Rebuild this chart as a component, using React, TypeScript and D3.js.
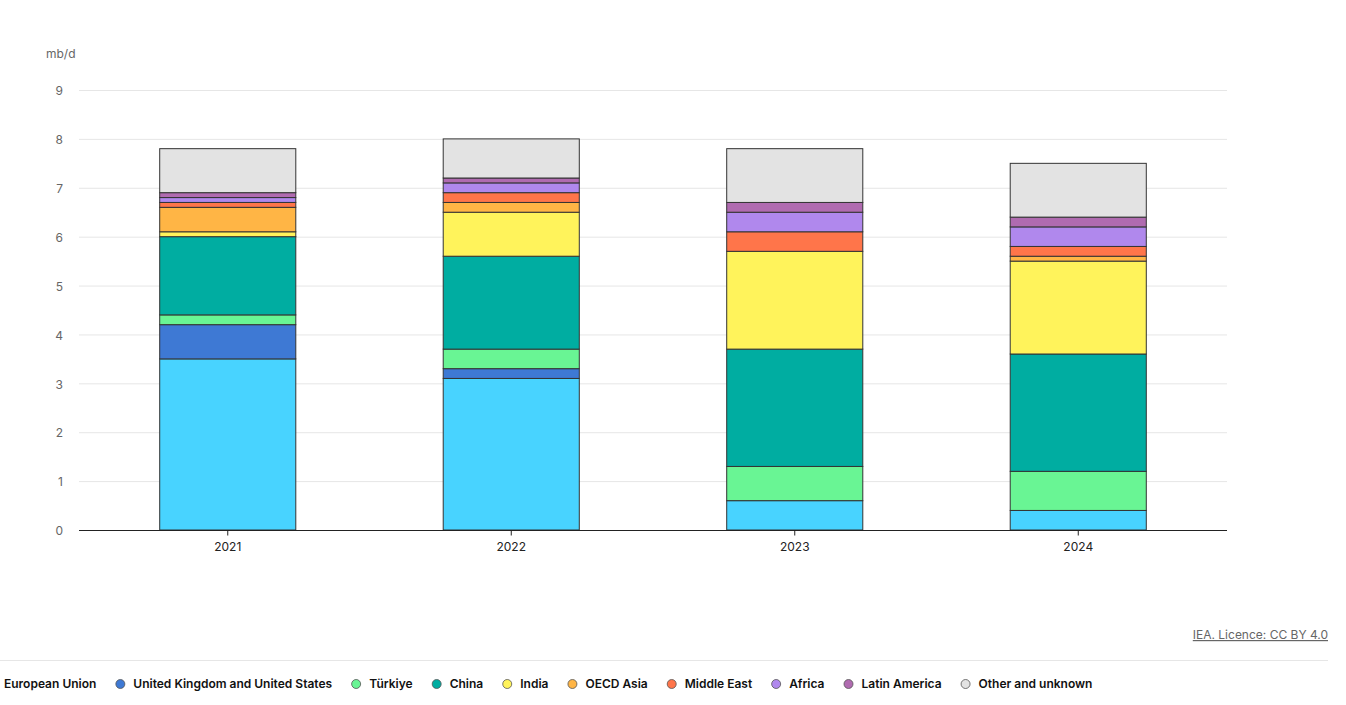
import React, { useEffect, useRef } from "react";
import * as d3 from "d3";

// years on the x axis
const years = ["2021", "2022", "2023", "2024"];

// series (bottom to top), values in mb/d
const europeanUnion = [3.5, 3.1, 0.6, 0.4];
const ukAndUs = [0.7, 0.2, 0, 0];
const turkiye = [0.2, 0.4, 0.7, 0.8];
const china = [1.6, 1.9, 2.4, 2.4];
const india = [0.1, 0.9, 2.0, 1.9];
const oecdAsia = [0.5, 0.2, 0, 0.1];
const middleEast = [0.1, 0.2, 0.4, 0.2];
const africa = [0.1, 0.2, 0.4, 0.4];
const latinAmerica = [0.1, 0.1, 0.2, 0.2];
const otherUnknown = [0.9, 0.8, 1.1, 1.1];

const seriesNames = [
  "European Union",
  "United Kingdom and United States",
  "Türkiye",
  "China",
  "India",
  "OECD Asia",
  "Middle East",
  "Africa",
  "Latin America",
  "Other and unknown",
];
const seriesColors = [
  "#48d3ff",
  "#3e79d4",
  "#69f594",
  "#00ada1",
  "#fff35b",
  "#ffb545",
  "#ff754a",
  "#b088ed",
  "#b06bb0",
  "#e3e3e3",
];

const yTicks = [0, 1, 2, 3, 4, 5, 6, 7, 8, 9];

const App: React.FC = () => {
  const ref = useRef<SVGSVGElement>(null);

  useEffect(() => {
    const width = 1346;
    const height = 705;
    const font = "Inter, 'Noto Sans', sans-serif";

    const svg = d3.select(ref.current!);
    svg.selectAll("*").remove();
    svg
      .attr("width", width)
      .attr("height", height)
      .style("display", "block")
      .style("position", "absolute")
      .style("left", "0px")
      .style("top", "0px");

    const allSeries = [
      europeanUnion, ukAndUs, turkiye, china, india,
      oecdAsia, middleEast, africa, latinAmerica, otherUnknown,
    ];
    const table = years.map((y, i) => {
      const row: any = { year: y };
      seriesNames.forEach((n, k) => (row[n] = allSeries[k][i]));
      return row;
    });
    const stacked = d3.stack().keys(seriesNames)(table);

    const plotLeft = 79;
    const plotRight = 1227;
    const x = d3.scaleBand().domain(years).range([86, 1220]).paddingInner(0.52).paddingOuter(0.26);
    const y = d3.scaleLinear().domain([0, 9]).range([530, 90]);

    // gridlines
    svg.append("g")
      .selectAll("line")
      .data(yTicks.filter((t) => t > 0))
      .join("line")
      .attr("x1", plotLeft)
      .attr("x2", plotRight)
      .attr("y1", (d) => y(d) + 0.5)
      .attr("y2", (d) => y(d) + 0.5)
      .attr("stroke", "#e6e6e6")
      .attr("stroke-width", 1);

    // y labels
    svg.append("g")
      .selectAll("text")
      .data(yTicks)
      .join("text")
      .attr("x", 63)
      .attr("y", (d) => y(d) + 1)
      .attr("dy", "0.35em")
      .attr("text-anchor", "end")
      .attr("font-family", font)
      .attr("font-size", 12)
      .attr("fill", "#666")
      .text((d) => d);

    svg.append("text")
      .attr("x", 46)
      .attr("y", 58)
      .attr("font-family", font)
      .attr("font-size", 12)
      .attr("fill", "#666")
      .text("mb/d");

    // bars
    svg.append("g")
      .selectAll("g")
      .data(stacked)
      .join("g")
      .attr("fill", (_, i) => seriesColors[i])
      .selectAll("rect")
      .data((d) => d.filter((p) => p[1] - p[0] > 0))
      .join("rect")
      .attr("x", (d: any) => x(d.data.year)!)
      .attr("width", x.bandwidth())
      .attr("y", (d) => y(d[1]))
      .attr("height", (d) => y(d[0]) - y(d[1]))
      .attr("stroke", "#333")
      .attr("stroke-width", 1);

    // x axis
    const xAxis = svg.append("g").attr("transform", "translate(0,530.5)");
    xAxis.append("line")
      .attr("x1", plotLeft)
      .attr("x2", plotRight)
      .attr("stroke", "#222")
      .attr("stroke-width", 1);
    const xt = xAxis.selectAll("g.tick")
      .data(years)
      .join("g")
      .attr("transform", (d) => `translate(${x(d)! + x.bandwidth() / 2},0)`);
    xt.append("line").attr("y2", 5).attr("stroke", "#222");
    xt.append("text")
      .attr("y", 20)
      .attr("text-anchor", "middle")
      .attr("font-family", font)
      .attr("font-size", 12)
      .attr("fill", "#222")
      .text((d) => d);

    // source
    svg.append("text")
      .attr("x", 1328)
      .attr("y", 639)
      .attr("text-anchor", "end")
      .attr("font-family", font)
      .attr("font-size", 12)
      .attr("fill", "#666")
      .attr("text-decoration", "underline")
      .text("IEA. Licence: CC BY 4.0");

    svg.append("line")
      .attr("x1", 0)
      .attr("x2", 1328)
      .attr("y1", 660.5)
      .attr("y2", 660.5)
      .attr("stroke", "#e6e6e6");

    // legend (scrolled, first marker off-canvas)
    const legend = svg.append("g").attr("transform", "translate(0,684)");
    let cx = -9;
    seriesNames.forEach((name, i) => {
      legend.append("circle")
        .attr("cx", cx)
        .attr("cy", 0)
        .attr("r", 4.5)
        .attr("fill", seriesColors[i])
        .attr("stroke", "#555")
        .attr("stroke-width", 0.8);
      const t = legend.append("text")
        .attr("x", cx + 13)
        .attr("y", 0)
        .attr("dy", "0.35em")
        .attr("font-family", font)
        .attr("font-size", 12)
        .attr("font-weight", 600)
        .attr("fill", "#111")
        .text(name);
      const w = (t.node() as SVGTextElement).getComputedTextLength();
      cx = cx + 13 + w + 24;
    });
  }, []);

  return <svg ref={ref} />;
};

export default App;
